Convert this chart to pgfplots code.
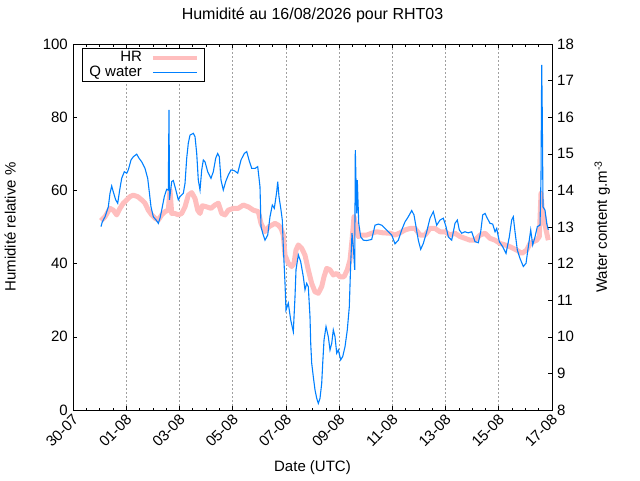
\documentclass[border=0pt]{standalone}
\usepackage{fontspec}
\setmainfont{Liberation Sans}
\usepackage{pgfplots}
\pgfplotsset{compat=1.18}
\definecolor{hrpink}{RGB}{255,190,190}
\definecolor{qblue}{RGB}{0,128,255}
\definecolor{gridgray}{RGB}{160,160,160}
\begin{document}
\fontsize{15}{18}\selectfont
\begin{tikzpicture}
\path[use as bounding box] (-73pt,-70pt) rectangle (567pt,410pt);
\begin{axis}[
  at={(0pt,0pt)}, anchor=south west,
  scale only axis, width=479pt, height=366pt,
  xmin=0, xmax=18, ymin=0, ymax=100,
  xtick={0,2,...,18},
  xticklabels={30-07,01-08,03-08,05-08,07-08,09-08,11-08,13-08,15-08,17-08},
  minor x tick num=3,
  ytick={0,20,...,100},
  ytick pos=left,
  tick align=inside,
  major tick length=4pt, minor tick length=2.5pt,
  every tick/.style={black, line width=0.6pt},
  axis line style={line width=0.8pt},
  xmajorgrids, major x grid style={gridgray, dash pattern=on 2pt off 2pt, line width=0.6pt},
  /pgf/number format/assume math mode=true,
  tick label style={font=\fontsize{15}{18}\selectfont},
  xticklabel style={rotate=45, anchor=east, xshift=2pt, yshift=-7pt},
  title={Humidité au 16/08/2026 pour RHT03},
  title style={at={(axis description cs:0.5,1.050)}, anchor=base, font=\fontsize{16}{19}\selectfont},
  xlabel={Date (UTC)},
  xlabel style={at={(axis description cs:0.5,-0.1667)}, anchor=base, font=\fontsize{15}{18}\selectfont},
  ylabel={Humidité relative \%},
  ylabel style={at={(axis description cs:-0.1200,0.5)}, anchor=base, rotate=0, font=\fontsize{15}{18}\selectfont},
]
\addplot[hrpink, line width=5pt, line join=round] coordinates {
(1.052,51.7)(1.203,52.8)(1.390,55.1)(1.514,54.6)(1.642,53.3)(1.766,55.1)(1.890,56.5)(2.018,57.4)
(2.142,58.3)(2.266,58.7)(2.431,58.3)(2.582,57.4)(2.706,56.5)(2.830,54.6)(2.958,53.3)(3.082,52.4)
(3.206,51.9)(3.333,53.3)(3.457,54.2)(3.581,54.6)(3.645,60.1)(3.709,53.7)(3.833,53.7)(3.957,53.3)
(4.085,53.7)(4.209,55.5)(4.333,58.7)(4.461,59.4)(4.585,57.8)(4.686,54.6)(4.773,53.7)(4.859,55.8)
(5.024,55.5)(5.186,55.1)(5.336,56.0)(5.460,56.5)(5.588,53.7)(5.712,53.3)(5.836,54.6)(6.024,55.1)
(6.212,55.1)(6.400,56.0)(6.588,55.5)(6.776,54.6)(6.964,54.2)(7.065,51.0)(7.215,48.7)(7.366,50.1)
(7.591,51.0)(7.715,50.5)(7.817,49.6)(7.903,47.8)(7.967,42.3)(8.091,40.1)(8.219,39.2)(8.305,40.1)
(8.380,43.7)(8.467,45.1)(8.594,44.2)(8.718,42.3)(8.842,38.3)(8.970,34.6)(9.094,32.3)(9.218,31.9)
(9.346,33.7)(9.433,36.4)(9.534,38.7)(9.658,38.3)(9.782,36.9)(9.910,37.3)(10.034,36.4)(10.184,36.4)
(10.308,38.3)(10.410,41.0)(10.485,46.4)(10.560,52.8)(10.635,50.1)(10.721,47.4)(10.849,47.8)(11.037,47.8)
(11.225,48.3)(11.413,48.7)(11.661,48.4)(11.913,48.3)(12.101,47.8)(12.289,48.4)(12.477,49.2)(12.665,49.6)
(12.853,49.6)(13.040,47.8)(13.228,47.8)(13.416,49.6)(13.604,49.6)(13.792,48.7)(13.980,48.7)(14.168,47.8)
(14.356,48.3)(14.543,47.4)(14.731,46.9)(14.919,46.4)(15.107,46.4)(15.295,47.8)(15.483,48.3)(15.671,46.9)
(15.859,46.4)(16.047,45.5)(16.235,45.1)(16.423,44.6)(16.674,43.7)(16.862,42.8)(17.050,43.7)(17.174,45.5)
(17.298,46.0)(17.426,46.4)(17.524,47.4)(17.587,59.2)(17.651,52.8)(17.700,52.8)(17.775,49.2)(17.861,46.4)
};
\end{axis}
\begin{axis}[
  at={(0pt,0pt)}, anchor=south west,
  scale only axis, width=479pt, height=366pt,
  xmin=0, xmax=18, ymin=8, ymax=18,
  hide x axis,
  ytick={8,9,...,18},
  ytick pos=right, yticklabel pos=right,
  tick align=inside,
  major tick length=4pt,
  every tick/.style={black, line width=0.6pt},
  axis line style={line width=0.8pt},
  /pgf/number format/assume math mode=true,
  tick label style={font=\fontsize{15}{18}\selectfont},
  ylabel={Water content g.m\textsuperscript{-3}},
  ylabel style={at={(axis description cs:1.1148,0.5)}, anchor=base, rotate=0, font=\fontsize{15}{18}\selectfont},
  legend style={at={(axis description cs:0.0188,0.989)}, anchor=north west, draw=black, line width=0.8pt,
    fill=white, font=\fontsize{15}{18}\selectfont, inner xsep=5pt, inner ysep=1pt, row sep=-2pt,
    column sep=7pt, nodes={inner sep=2pt}},
  legend cell align=right,
  legend plot pos=right,
  legend image code/.code={\draw[#1] (0pt,0pt) -- (44pt,0pt);},
]
\addlegendimage{hrpink, line width=4pt}
\addlegendentry{HR}
\addplot[qblue, line width=1.1pt] coordinates {
(1.052,13.01)(1.101,13.14)(1.203,13.28)(1.327,13.55)(1.390,13.92)(1.454,14.12)(1.514,13.96)(1.605,13.74)
(1.680,13.65)(1.766,14.06)(1.830,14.33)(1.928,14.51)(2.018,14.47)(2.078,14.56)(2.180,14.83)(2.266,14.92)
(2.394,14.99)(2.480,14.88)(2.582,14.78)(2.706,14.60)(2.807,14.33)(2.867,13.96)(2.931,13.55)(3.018,13.28)
(3.145,13.17)(3.206,13.10)(3.269,13.24)(3.333,13.46)(3.431,13.83)(3.521,14.03)(3.581,14.01)(3.608,16.20)
(3.626,13.74)(3.709,14.24)(3.769,14.27)(3.833,14.10)(3.897,13.92)(3.957,13.74)(4.021,13.83)(4.145,13.92)
(4.209,14.19)(4.273,14.88)(4.333,15.29)(4.397,15.51)(4.521,15.56)(4.585,15.47)(4.649,15.01)(4.709,14.28)
(4.773,14.01)(4.837,14.56)(4.897,14.83)(4.961,14.78)(5.062,14.51)(5.186,14.33)(5.272,14.51)(5.363,14.88)
(5.438,15.01)(5.498,14.92)(5.562,14.28)(5.648,14.01)(5.738,14.24)(5.836,14.42)(5.938,14.56)(6.062,14.54)
(6.189,14.47)(6.313,14.83)(6.437,15.01)(6.528,15.06)(6.614,14.83)(6.716,14.60)(6.840,14.60)(6.941,14.65)
(7.027,14.10)(7.065,13.01)(7.129,12.83)(7.215,12.64)(7.317,12.78)(7.403,13.28)(7.490,13.60)(7.565,13.51)
(7.655,13.96)(7.693,14.24)(7.741,13.83)(7.817,13.46)(7.865,13.19)(7.903,12.46)(7.967,11.46)(8.004,10.73)
(8.091,10.92)(8.181,10.46)(8.279,10.14)(8.343,11.10)(8.380,11.83)(8.467,12.24)(8.557,12.05)(8.655,11.64)
(8.718,11.28)(8.782,11.46)(8.842,11.37)(8.906,10.55)(8.933,9.82)(8.970,9.28)(9.030,8.91)(9.094,8.55)
(9.158,8.32)(9.218,8.18)(9.282,8.32)(9.346,8.73)(9.384,9.28)(9.433,9.91)(9.508,10.28)(9.594,10.00)
(9.658,9.64)(9.722,9.82)(9.782,10.19)(9.846,10.00)(9.910,9.55)(9.970,9.64)(10.060,9.37)(10.135,9.46)
(10.222,9.73)(10.308,10.19)(10.383,10.82)(10.436,12.01)(10.485,12.83)(10.534,12.46)(10.586,11.83)(10.609,15.10)
(10.662,13.37)(10.684,14.28)(10.737,13.10)(10.812,12.73)(10.910,12.64)(11.037,12.63)(11.225,12.66)(11.349,13.05)
(11.473,13.08)(11.601,13.05)(11.725,12.96)(11.849,12.87)(11.977,12.78)(12.101,12.54)(12.225,12.64)(12.352,12.92)
(12.476,13.14)(12.600,13.28)(12.728,13.45)(12.814,13.33)(12.890,13.01)(12.976,12.64)(13.066,12.39)(13.164,12.55)
(13.292,12.87)(13.416,13.24)(13.540,13.42)(13.668,13.05)(13.792,13.19)(13.916,13.24)(14.017,13.01)(14.104,12.73)
(14.231,12.64)(14.355,13.10)(14.442,13.19)(14.517,12.92)(14.607,12.83)(14.731,12.87)(14.855,12.84)(14.983,12.87)
(15.107,12.60)(15.231,12.57)(15.321,12.87)(15.397,13.33)(15.483,13.37)(15.569,13.24)(15.671,13.10)(15.772,13.08)
(15.859,12.87)(15.922,12.96)(16.020,12.60)(16.148,12.46)(16.272,12.28)(16.396,12.73)(16.486,13.19)(16.546,13.28)
(16.610,12.87)(16.697,12.37)(16.798,12.14)(16.922,11.92)(17.024,12.01)(17.110,12.46)(17.200,12.92)(17.275,12.51)
(17.362,12.73)(17.448,13.01)(17.550,13.05)(17.587,14.37)(17.613,17.43)(17.636,16.01)(17.662,13.55)(17.737,13.46)
(17.801,13.10)(17.861,12.92)
};
\addlegendentry{Q water}
\end{axis}
\end{tikzpicture}
\end{document}
